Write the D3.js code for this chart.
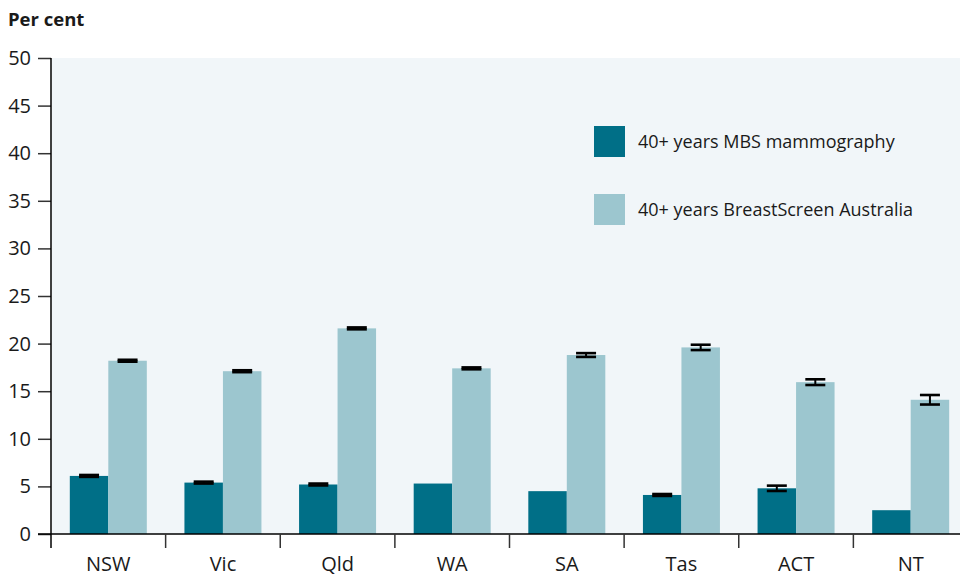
<!DOCTYPE html>
<html>
<head>
<meta charset="utf-8">
<script src="https://cdn.jsdelivr.net/npm/d3@7"></script>
<style>
  body { margin: 0; background: #fff; }
  text { font-family: "Open Sans", sans-serif; fill: #1a1a1a; }
</style>
</head>
<body>
<div id="container"></div>
<script>
const WIDTH = 960;
const HEIGHT = 576;
const MARGIN = { TOP: 58, BOTTOM: 42, LEFT: 51, RIGHT: -8 };

const width = WIDTH - MARGIN.LEFT - MARGIN.RIGHT;
const height = HEIGHT - MARGIN.TOP - MARGIN.BOTTOM;

const states = ['NSW', 'Vic', 'Qld', 'WA', 'SA', 'Tas', 'ACT', 'NT'];
const seriesNames = ['40+ years MBS mammography', '40+ years BreastScreen Australia'];
const mbsValues = [6.1, 5.4, 5.2, 5.3, 4.5, 4.1, 4.8, 2.5];
const mbsErrors = [0.1, 0.1, 0.1, 0, 0, 0.1, 0.28, 0];
const bsaValues = [18.2, 17.1, 21.6, 17.4, 18.8, 19.6, 15.95, 14.1];
const bsaErrors = [0.1, 0.1, 0.1, 0.1, 0.2, 0.28, 0.3, 0.5];
const yTicks = [0, 5, 10, 15, 20, 25, 30, 35, 40, 45, 50];
const COLORS = ['#006F87', '#9CC6CF'];

const rows = states.map((s, i) => ({
  state: s,
  vals: [
    { k: 0, v: mbsValues[i], e: mbsErrors[i] },
    { k: 1, v: bsaValues[i], e: bsaErrors[i] }
  ]
}));

const svg = d3.select('#container')
  .append('svg')
    .attr('width', WIDTH)
    .attr('height', HEIGHT);

svg.append('text')
  .attr('x', 8)
  .attr('y', 26)
  .style('font-weight', 700)
  .style('font-size', '18.5px')
  .text('Per cent');

const g = svg.append('g')
  .attr('transform', `translate(${MARGIN.LEFT}, ${MARGIN.TOP})`);

const x0 = d3.scaleBand().domain(states).range([0, width]);
const x1 = d3.scaleBand().domain([0, 1]).range([0, 77]);
const y = d3.scaleLinear().domain([0, 50]).range([height, 0]);

g.append('rect')
  .attr('x', 1)
  .attr('width', width)
  .attr('height', height)
  .attr('fill', '#F1F6F9');

const groups = g.selectAll('.grp')
  .data(rows)
  .enter()
  .append('g')
    .attr('transform', d => `translate(${x0(d.state) + (x0.bandwidth() - 77) / 2}, 0)`);

groups.selectAll('rect')
  .data(d => d.vals)
  .enter()
  .append('rect')
    .attr('x', d => x1(d.k))
    .attr('y', d => y(d.v))
    .attr('width', x1.bandwidth())
    .attr('height', d => height - y(d.v))
    .attr('fill', d => COLORS[d.k]);

const err = groups.selectAll('.err')
  .data(d => d.vals.filter(v => v.e > 0))
  .enter()
  .append('g')
    .attr('stroke', '#000');

const cx = d => x1(d.k) + x1.bandwidth() / 2;
err.append('line')
  .attr('x1', cx).attr('x2', cx)
  .attr('y1', d => y(d.v + d.e)).attr('y2', d => y(d.v - d.e))
  .attr('stroke-width', 2);
[1, -1].forEach(s => {
  err.append('line')
    .attr('x1', d => cx(d) - 10).attr('x2', d => cx(d) + 10)
    .attr('y1', d => y(d.v + s * d.e)).attr('y2', d => y(d.v + s * d.e))
    .attr('stroke-width', 2.6);
});

// y axis
const axisLeft = d3.axisLeft(y).tickValues(yTicks).tickSize(13).tickPadding(7);
const yAxis = g.append('g').call(axisLeft);
yAxis.select('.domain').remove();
yAxis.selectAll('line').attr('stroke', '#333').attr('stroke-width', 1.5);
yAxis.selectAll('text')
  .style('font-size', '20px')
  .style('font-family', '"Open Sans", sans-serif')
  .attr('fill', '#1a1a1a');

g.append('line')
  .attr('x1', 0).attr('x2', 0)
  .attr('y1', 0).attr('y2', height + 14)
  .attr('stroke', '#000').attr('stroke-width', 1.5);

// x axis
g.append('line')
  .attr('x1', -13).attr('x2', width)
  .attr('y1', height).attr('y2', height)
  .attr('stroke', '#000').attr('stroke-width', 1.5);

g.selectAll('.xtick')
  .data(states.slice(1))
  .enter()
  .append('line')
    .attr('x1', d => x0(d)).attr('x2', d => x0(d))
    .attr('y1', height).attr('y2', height + 14)
    .attr('stroke', '#333').attr('stroke-width', 1.5);

g.selectAll('.xlab')
  .data(states)
  .enter()
  .append('text')
    .attr('x', d => x0(d) + x0.bandwidth() / 2)
    .attr('y', height + 37)
    .attr('text-anchor', 'middle')
    .style('font-size', '20px')
    .text(d => d);

// legend
const legend = svg.append('g')
  .attr('transform', 'translate(594, 126)');
const li = legend.selectAll('g')
  .data(seriesNames)
  .enter()
  .append('g')
    .attr('transform', (d, i) => `translate(0, ${i * 68})`);
li.append('rect')
  .attr('width', 31).attr('height', 31)
  .attr('fill', (d, i) => COLORS[i]);
li.append('text')
  .attr('x', 44)
  .attr('y', 22)
  .style('font-size', '18px')
  .text(d => d);
</script>
</body>
</html>
